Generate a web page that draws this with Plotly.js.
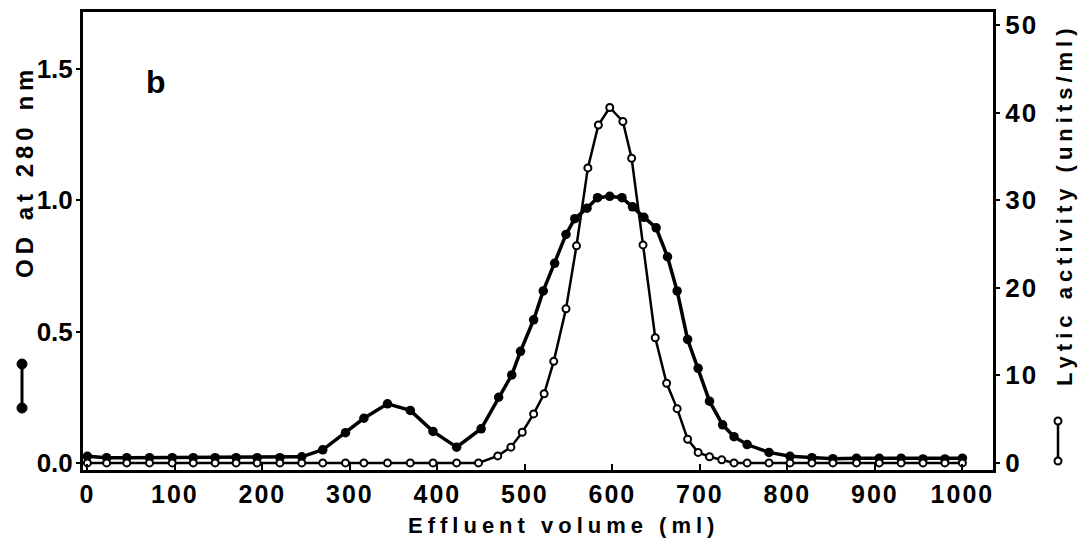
<!DOCTYPE html>
<html>
<head>
<meta charset="utf-8">
<script src="https://cdn.plot.ly/plotly-3.0.1.min.js"></script>
<style>
html,body{margin:0;padding:0;background:#fff;}
#chart{width:1083px;height:547px;}
.annotation-text{letter-spacing:5px;}
.xtick text,.y2tick text{letter-spacing:2px;}
</style>
</head>
<body>
<div id="chart"></div>
<script>
// Effluent volume (ml) of each fraction, OD at 280 nm (filled circles)
const volumeOD = [0, 22, 45, 71, 97, 121, 146, 170, 194, 220, 245, 269, 295, 316, 343, 369, 395, 422,
  450, 470, 485, 495, 510, 521, 534, 547, 557, 571, 583, 597, 611, 623, 636, 650, 663, 674, 686, 698,
  711, 726, 739, 754, 779, 803, 828, 852, 879, 905, 930, 955, 980, 1000];
const odValues = [0.025, 0.02, 0.02, 0.02, 0.02, 0.02, 0.02, 0.02, 0.02, 0.02, 0.023, 0.05, 0.115, 0.17, 0.225, 0.2, 0.12, 0.06,
  0.13, 0.25, 0.335, 0.425, 0.545, 0.655, 0.76, 0.87, 0.93, 0.97, 1.01, 1.015, 1.01, 0.975, 0.935, 0.895, 0.785, 0.655, 0.47, 0.36,
  0.235, 0.145, 0.10, 0.07, 0.04, 0.025, 0.02, 0.016, 0.018, 0.018, 0.018, 0.015, 0.015, 0.018];

// Lytic activity (units/ml) (open circles)
const volumeLytic = [0, 22, 45, 71, 97, 121, 146, 170, 194, 220, 245, 269, 295, 316, 343, 369, 395, 422,
  447, 469, 484, 497, 510, 522, 533, 547, 559, 572, 584, 597, 612, 622, 635, 649, 662, 674, 686, 698,
  711, 725, 739, 754, 779, 803, 828, 852, 879, 905, 930, 955, 980, 1000];
const lyticValues = [0, 0, 0, 0, 0, 0, 0, 0, 0, 0, 0, 0, 0, 0, 0, 0, 0, 0,
  0, 0.8, 1.8, 3.5, 5.6, 7.9, 11.6, 17.6, 24.8, 33.7, 38.6, 40.6, 39.0, 34.8, 24.9, 14.3, 9.1, 6.2, 2.7, 1.2,
  0.7, 0.35, 0, 0, 0, 0, 0, 0, 0, 0, 0, 0, 0, 0];

const xTickValues = [0, 100, 200, 300, 400, 500, 600, 700, 800, 900, 1000];
const odTickValues = [0, 0.5, 1.0, 1.5];
const lyticTickValues = [0, 10, 20, 30, 40, 50];

const W = 1083, H = 547;
const M = {l: 83, r: 90, t: 12, b: 77};
const PW = W - M.l - M.r, PH = H - M.t - M.b;
const px = v => (v - M.l) / PW;
const py = v => (H - M.b - v) / PH;

const FONT = {family: 'Liberation Sans, Arial, sans-serif', color: '#000', weight: 700};

const traces = [
  {
    x: volumeOD, y: odValues, yaxis: 'y', type: 'scatter', mode: 'lines+markers',
    line: {color: '#000', width: 3.5},
    marker: {color: '#000', size: 9.5},
    name: 'OD at 280 nm', showlegend: false, hoverinfo: 'x+y'
  },
  {
    x: volumeLytic, y: lyticValues, yaxis: 'y2', type: 'scatter', mode: 'lines+markers',
    line: {color: '#000', width: 2.5},
    marker: {color: '#fff', size: 7, line: {color: '#000', width: 2}},
    name: 'Lytic activity', showlegend: false, hoverinfo: 'x+y'
  }
];

function circ(cx, cy, r, fill, lw) {
  return {type: 'circle', xref: 'paper', yref: 'paper',
    x0: px(cx - r), x1: px(cx + r), y0: py(cy + r), y1: py(cy - r),
    fillcolor: fill, line: {color: '#000', width: lw}};
}
function vline(x, y0, y1, w) {
  return {type: 'line', xref: 'paper', yref: 'paper',
    x0: px(x), x1: px(x), y0: py(y0), y1: py(y1), line: {color: '#000', width: w}};
}
function label(text, x, y, size, angle) {
  return {text: text, xref: 'paper', yref: 'paper', x: px(x), y: py(y),
    xanchor: 'center', yanchor: 'middle', showarrow: false, textangle: angle || 0,
    font: Object.assign({size: size}, FONT)};
}

const layout = {
  width: W, height: H,
  margin: M,
  paper_bgcolor: '#fff', plot_bgcolor: '#fff',
  showlegend: false,
  xaxis: {
    range: [-5, 1035], tickvals: xTickValues, ticktext: xTickValues.map(String),
    showline: true, linewidth: 3, linecolor: '#000', mirror: true,
    ticks: 'inside', ticklen: 6, tickwidth: 2, tickcolor: '#000',
    showgrid: false, zeroline: false,
    tickfont: Object.assign({size: 25}, FONT)
  },
  yaxis: {
    range: [-0.027, 1.717], tickvals: odTickValues, ticktext: ['0.0', '0.5', '1.0', '1.5'],
    showline: true, linewidth: 3, linecolor: '#000',
    ticks: 'outside', ticklen: 4, tickwidth: 2, tickcolor: '#000',
    ticklabelstandoff: -2,
    showgrid: false, zeroline: false,
    tickfont: Object.assign({size: 26}, FONT)
  },
  yaxis2: {
    overlaying: 'y', side: 'right',
    range: [-0.81, 51.51], tickvals: lyticTickValues, ticktext: lyticTickValues.map(String),
    showline: true, linewidth: 3, linecolor: '#000',
    ticks: 'outside', ticklen: 4, tickwidth: 2, tickcolor: '#000',
    showgrid: false, zeroline: false,
    tickfont: Object.assign({size: 26}, FONT)
  },
  annotations: [
    label('b', 158, 82, 32),
    label('Effluent volume (ml)', 563, 525, 22),
    label('OD at 280 nm', 24, 172, 24, -90),
    label('Lytic activity (units/ml)', 1064, 205, 22, -90)
  ],
  shapes: [
    vline(22, 364, 408, 3),
    circ(22, 364, 5, '#000', 1),
    circ(22, 408, 5, '#000', 1),
    vline(1058, 421, 461, 2.5),
    circ(1058, 421, 3.5, '#fff', 2),
    circ(1058, 461, 3.5, '#fff', 2)
  ]
};

Plotly.newPlot('chart', traces, layout, {staticPlot: true, displayModeBar: false});
</script>
</body>
</html>
